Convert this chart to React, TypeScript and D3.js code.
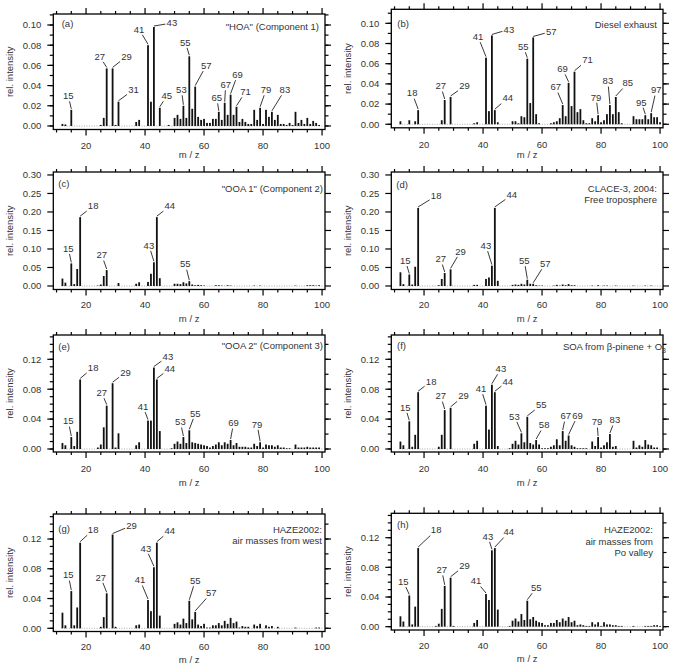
import React from "react";
import * as d3 from "d3";

type Pt = [number, number];

// spectra: [m/z, relative intensity]
const hoa: Pt[] = [[12,.002],[13,.0015],[15,.016],[25,.001],[26,.008],[27,.057],[29,.057],[30,.001],[31,.024],[37,.004],[38,.006],[41,.080],[42,.024],[43,.098],[45,.018],[48,.001],[50,.008],[51,.011],[52,.007],[53,.020],[54,.008],[55,.069],[56,.017],[57,.039],[58,.009],[59,.006],[60,.007],[61,.003],[62,.003],[63,.007],[64,.007],[65,.014],[66,.006],[67,.023],[68,.011],[69,.031],[70,.011],[71,.019],[72,.004],[73,.007],[74,.004],[75,.002],[76,.002],[77,.016],[78,.006],[79,.018],[80,.002],[81,.016],[82,.009],[83,.014],[84,.006],[85,.011],[86,.002],[87,.002],[88,.001],[89,.003],[90,.001],[91,.014],[92,.003],[93,.006],[94,.002],[95,.008],[96,.002],[97,.005],[98,.003],[99,.001]];
const diesel: Pt[] = [[12,.003],[15,.004],[17,.003],[18,.014],[26,.004],[27,.024],[29,.027],[37,.001],[38,.002],[41,.066],[42,.013],[43,.088],[44,.014],[45,.002],[50,.003],[51,.003],[52,.001],[53,.008],[54,.007],[55,.065],[56,.021],[57,.086],[58,.010],[59,.001],[63,.001],[64,.002],[65,.003],[66,.006],[67,.019],[68,.008],[69,.041],[70,.018],[71,.052],[72,.012],[73,.015],[74,.004],[75,.001],[76,.001],[77,.006],[78,.003],[79,.009],[80,.002],[81,.004],[82,.010],[83,.019],[84,.010],[85,.027],[86,.012],[87,.001],[91,.008],[92,.005],[93,.005],[94,.005],[95,.009],[96,.005],[97,.011],[98,.007],[99,.007],[100,.002]];
const ooa1: Pt[] = [[12,.020],[13,.009],[15,.061],[16,.005],[17,.046],[18,.186],[24,.001],[25,.004],[26,.027],[27,.043],[31,.008],[37,.006],[38,.010],[41,.011],[42,.033],[43,.064],[44,.186],[45,.021],[50,.006],[51,.006],[52,.005],[53,.010],[54,.007],[55,.013],[56,.004],[57,.002],[58,.003],[59,.002],[60,.001],[64,.002],[65,.002],[66,.001],[68,.002],[69,.001],[77,.001],[79,.001],[91,.001],[95,.002],[96,.002],[97,.002],[98,.001],[99,.002]];
const clace: Pt[] = [[12,.037],[13,.005],[15,.031],[16,.004],[17,.052],[18,.211],[25,.002],[26,.019],[27,.035],[29,.045],[37,.003],[38,.003],[41,.019],[42,.023],[43,.055],[44,.211],[45,.014],[50,.003],[51,.004],[52,.003],[53,.006],[54,.004],[55,.017],[56,.006],[57,.006],[58,.002],[59,.001],[60,.001],[64,.001],[65,.003],[66,.001],[67,.004],[68,.002],[69,.005],[70,.002],[71,.002],[77,.001],[79,.002],[81,.001],[82,.001],[85,.001],[91,.001],[95,.001],[97,.001]];
const ooa2: Pt[] = [[12,.008],[13,.005],[15,.016],[16,.004],[17,.023],[18,.093],[24,.002],[25,.006],[26,.029],[27,.058],[29,.088],[30,.002],[31,.021],[37,.005],[38,.009],[41,.038],[42,.038],[43,.109],[44,.093],[45,.024],[49,.001],[50,.007],[51,.010],[52,.007],[53,.016],[54,.008],[55,.025],[56,.009],[57,.008],[58,.007],[59,.006],[60,.005],[61,.004],[62,.002],[63,.004],[64,.006],[65,.009],[66,.005],[67,.009],[68,.007],[69,.012],[70,.005],[71,.008],[72,.003],[73,.003],[74,.003],[75,.002],[76,.002],[77,.007],[78,.004],[79,.009],[80,.002],[81,.006],[82,.005],[83,.005],[84,.003],[85,.005],[86,.002],[87,.002],[88,.001],[89,.001],[91,.006],[92,.002],[93,.002],[94,.002],[95,.003],[96,.002],[97,.002],[98,.002],[99,.002]];
const soa: Pt[] = [[12,.010],[13,.005],[15,.037],[16,.003],[17,.019],[18,.076],[25,.003],[26,.019],[27,.052],[29,.055],[37,.007],[38,.011],[41,.058],[42,.026],[43,.086],[44,.076],[45,.004],[49,.001],[50,.007],[51,.011],[52,.006],[53,.021],[54,.009],[55,.043],[56,.008],[57,.006],[58,.012],[59,.006],[60,.001],[61,.001],[62,.001],[63,.003],[64,.005],[65,.013],[66,.005],[67,.024],[68,.011],[69,.018],[70,.005],[71,.003],[72,.001],[73,.001],[74,.001],[75,.001],[77,.010],[78,.004],[79,.016],[80,.002],[81,.005],[82,.009],[83,.020],[84,.003],[85,.004],[91,.011],[92,.002],[93,.005],[94,.003],[95,.012],[96,.006],[97,.005],[98,.002],[99,.002]];
const hazeWest: Pt[] = [[12,.021],[13,.004],[15,.050],[16,.004],[17,.028],[18,.115],[25,.002],[26,.015],[27,.047],[29,.126],[30,.002],[37,.004],[38,.005],[41,.038],[42,.023],[43,.082],[44,.115],[45,.017],[50,.006],[51,.008],[52,.005],[53,.013],[54,.007],[55,.037],[56,.012],[57,.022],[58,.005],[59,.003],[60,.006],[61,.001],[62,.001],[63,.004],[64,.004],[65,.007],[66,.004],[67,.010],[68,.006],[69,.014],[70,.007],[71,.009],[72,.001],[73,.003],[74,.002],[75,.002],[77,.005],[78,.003],[79,.006],[81,.004],[82,.002],[83,.003],[85,.002],[91,.001],[98,.001],[99,.001]];
const hazePo: Pt[] = [[12,.014],[13,.007],[15,.042],[16,.003],[17,.027],[18,.106],[24,.001],[25,.004],[26,.024],[27,.055],[29,.066],[30,.001],[37,.005],[38,.009],[41,.044],[42,.036],[43,.103],[44,.106],[45,.023],[49,.001],[50,.008],[51,.011],[52,.007],[53,.017],[54,.009],[55,.035],[56,.010],[57,.013],[58,.008],[59,.006],[60,.005],[61,.002],[62,.002],[63,.005],[64,.005],[65,.009],[66,.006],[67,.011],[68,.008],[69,.013],[70,.006],[71,.008],[72,.002],[73,.003],[74,.002],[75,.001],[76,.001],[77,.006],[78,.003],[79,.006],[80,.001],[81,.006],[82,.003],[83,.003],[84,.002],[85,.002],[86,.001],[87,.001],[91,.001],[95,.001],[96,.001],[97,.001],[98,.002],[99,.002],[100,.001]];

// labelled peaks
const hoaPeaks = [15, 27, 29, 31, 41, 43, 45, 53, 55, 57, 65, 67, 69, 71, 79, 83];
const dieselPeaks = [18, 27, 29, 41, 43, 44, 55, 57, 67, 69, 71, 79, 83, 85, 95, 97];
const ooa1Peaks = [15, 18, 27, 43, 44, 55];
const clacePeaks = [15, 18, 27, 29, 43, 44, 55, 57];
const ooa2Peaks = [15, 18, 27, 29, 41, 43, 44, 53, 55, 69, 79];
const soaPeaks = [15, 18, 27, 29, 41, 43, 44, 53, 55, 58, 67, 69, 79, 83];
const hazeWestPeaks = [15, 18, 27, 29, 41, 43, 44, 55, 57];
const hazePoPeaks = [15, 18, 27, 29, 41, 43, 44, 55];

const hoaTitle = ['"HOA" (Component 1)'];
const dieselTitle = ["Diesel exhaust"];
const ooa1Title = ['"OOA 1" (Component 2)'];
const claceTitle = ["CLACE-3, 2004:", "Free troposphere"];
const ooa2Title = ['"OOA 2" (Component 3)'];
const soaTitle = ["SOA from β-pinene + O_3"];
const hazeWestTitle = ["HAZE2002:", "air masses from west"];
const hazePoTitle = ["HAZE2002:", "air masses from", "Po valley"];

const xMajor = [20, 40, 60, 80, 100];
const xMinor = [10, 15, 25, 30, 35, 45, 50, 55, 65, 70, 75, 85, 90, 95];

const FONT = '"Liberation Sans", Arial, Helvetica, sans-serif';
const TXT = "#333";

const panels = [
  { letter: "(a)", data: hoa, peaks: hoaPeaks, title: hoaTitle, left: 53.3, top: 14, bottom: 129.5, yLo: -0.0035, yHi: 0.1109, yMax: 0.1, yStep: 0.02, minL: 0.01, minR: 0.01, tickY: 146, xTitleY: 155, letterPos: [61.7, 24], titleX: 319, titleYs: [27],
    off: {15:[-3,-13],27:[-7,-11],29:[14,-11],31:[15,-11],41:[-9,-15],43:[18,-3],45:[7,-11],53:[-2,-15],55:[-4,-13],57:[11,-20],65:[-2,-13],67:[1,-17],69:[7,-19],71:[9,-14],79:[6,-17],83:[13,-21]} },
  { letter: "(b)", data: diesel, peaks: dieselPeaks, title: dieselTitle, left: 391.3, top: 9.3, bottom: 127.8, yLo: -0.0035, yHi: 0.1139, yMax: 0.1, yStep: 0.02, minL: 0.01, minR: 0.01, tickY: 145, xTitleY: 155, letterPos: [397.3, 23.3], titleX: 657, titleYs: [24.3],
    off: {18:[-6,-16],27:[-4,-13],29:[14,-10],41:[-8,-20],43:[17,-5],44:[13,-11],55:[-4,-11],57:[18,-5],67:[-7,-17],69:[-6,-13],71:[13,-11],79:[-2,-17],83:[-2,-23],85:[12,-13],95:[-4,-12],97:[5,-22]} },
  { letter: "(c)", data: ooa1, peaks: ooa1Peaks, title: ooa1Title, left: 53.3, top: 172, bottom: 289.5, yLo: -0.0095, yHi: 0.308, yMax: 0.3, yStep: 0.05, minL: 0, minR: 0, tickY: 305, xTitleY: 319, letterPos: [58.3, 184], titleX: 323, titleYs: [188.3],
    off: {15:[-3,-14],18:[13,-10],27:[-5,-14],43:[-5,-16],44:[13,-10],55:[-4,-16]} },
  { letter: "(d)", data: clace, peaks: clacePeaks, title: claceTitle, left: 391.3, top: 172, bottom: 289.5, yLo: -0.0095, yHi: 0.308, yMax: 0.3, yStep: 0.05, minL: 0, minR: 0, tickY: 305, xTitleY: 319, letterPos: [396.3, 185], titleX: 657, titleYs: [189, 199.3],
    off: {15:[-4,-13],18:[18,-11],27:[-4,-13],29:[10,-17],43:[-6,-19],44:[17,-12],55:[-3,-18],57:[12,-19]} },
  { letter: "(e)", data: ooa2, peaks: ooa2Peaks, title: ooa2Title, left: 53.3, top: 335, bottom: 452, yLo: -0.004, yHi: 0.1525, yMax: 0.12, yStep: 0.04, minL: 0.01, minR: 0.02, tickY: 468.3, xTitleY: 482.7, letterPos: [58.3, 346.7], titleX: 323, titleYs: [346],
    off: {15:[-3,-15],18:[13,-11],27:[-5,-12],29:[13,-10],41:[-5,-13],43:[14,-10],44:[13,-10],53:[-3,-14],55:[6,-16],69:[3,-16],79:[-3,-17]} },
  { letter: "(f)", data: soa, peaks: soaPeaks, title: soaTitle, left: 391.3, top: 335, bottom: 452, yLo: -0.004, yHi: 0.1525, yMax: 0.12, yStep: 0.04, minL: 0.01, minR: 0.02, tickY: 468.3, xTitleY: 482.7, letterPos: [397, 346], titleX: 666, titleYs: [346.7],
    off: {15:[-4,-13],18:[13,-10],27:[-4,-13],29:[13,-11],41:[-5,-16],43:[9,-15],44:[13,-10],53:[-7,-16],55:[14,-11],58:[8,-14],67:[3,-14],69:[9,-19],79:[-1,-14],83:[5,-13]} },
  { letter: "(g)", data: hazeWest, peaks: hazeWestPeaks, title: hazeWestTitle, left: 53.3, top: 514, bottom: 631.5, yLo: -0.0043, yHi: 0.1536, yMax: 0.12, yStep: 0.04, minL: 0.01, minR: 0.02, tickY: 646.7, xTitleY: 660, letterPos: [58.3, 528.3], titleX: 322, titleYs: [529.3, 541],
    off: {15:[-3,-15],18:[13,-12],27:[-6,-15],29:[19,-8],41:[-8,-19],43:[-8,-18],44:[13,-11],55:[6,-19],57:[16,-18]} },
  { letter: "(h)", data: hazePo, peaks: hazePoPeaks, title: hazePoTitle, left: 391.3, top: 513.3, bottom: 630, yLo: -0.0045, yHi: 0.1529, yMax: 0.12, yStep: 0.04, minL: 0.01, minR: 0.02, tickY: 645.7, xTitleY: 658.3, letterPos: [397, 524.3], titleX: 653, titleYs: [530, 541.7, 552.3],
    off: {15:[-6,-13],18:[18,-17],27:[-3,-15],29:[14,-11],41:[-10,-12],43:[-4,-13],44:[14,-15],55:[9,-12]} },
];

type PanelCfg = (typeof panels)[number];

function TitleLine({ s, x, y }: { s: string; x: number; y: number }) {
  const i = s.indexOf("_");
  if (i < 0) return <text x={x} y={y} dy="0.35em" textAnchor="end">{s}</text>;
  return (
    <text x={x} y={y} dy="0.35em" textAnchor="end">
      {s.slice(0, i)}
      <tspan dy={3} fontSize={7}>{s.slice(i + 1)}</tspan>
    </text>
  );
}

function Panel({ p }: { p: PanelCfg }) {
  const width = 271.7;
  const x = d3.scaleLinear().domain([8.9, 101]).range([p.left, p.left + width]);
  const y = d3.scaleLinear().domain([p.yLo, p.yHi]).range([p.bottom, p.top]);
  const right = p.left + width;
  const fmt = d3.format(".2f");
  const eps = 1e-9;
  const yMajor = d3.range(0, p.yMax + eps, p.yStep);
  const yMinL = p.minL ? d3.range(0, p.yHi, p.minL) : [];
  const yMinR = p.minR ? d3.range(0, p.yHi, p.minR) : [];
  const val = new Map(p.data.map(([m, v]) => [m, v]));
  const hw = 6.5, hh = 5.5;
  const cx = p.left + width / 2;
  const cy = (p.top + p.bottom) / 2;

  return (
    <g fontFamily={FONT} fontSize={9.5} fill={TXT}>
      {/* zero line */}
      <line x1={x(12) - 1} x2={x(100) + 1} y1={y(0)} y2={y(0)} stroke="#999" strokeWidth={0.8} strokeDasharray="1,1.5" />
      {/* bars */}
      {p.data.map(([m, v]) => (
        <rect key={m} x={x(m) - 0.9} width={1.8} y={y(v)} height={y(0) - y(v)} fill="#111" />
      ))}
      {/* frame */}
      <rect x={p.left} y={p.top} width={width} height={p.bottom - p.top} fill="none" stroke="#000" strokeWidth={1.3} />
      {/* x ticks */}
      <g stroke="#000" strokeWidth={1.2}>
        {xMajor.map((t) => (
          <g key={"M" + t}>
            <line x1={x(t)} x2={x(t)} y1={p.bottom} y2={p.bottom + 6} />
            <line x1={x(t)} x2={x(t)} y1={p.top} y2={p.top - 6} />
          </g>
        ))}
        {xMinor.map((t) => (
          <g key={"m" + t}>
            <line x1={x(t)} x2={x(t)} y1={p.bottom} y2={p.bottom + 3} />
            <line x1={x(t)} x2={x(t)} y1={p.top} y2={p.top - 3} />
          </g>
        ))}
        {yMajor.map((t) => (
          <g key={"YM" + t}>
            <line x1={p.left} x2={p.left - 6} y1={y(t)} y2={y(t)} />
            <line x1={right} x2={right + 6} y1={y(t)} y2={y(t)} />
          </g>
        ))}
        {yMinL.map((t) => (
          <line key={"yl" + t} x1={p.left} x2={p.left - 3.5} y1={y(t)} y2={y(t)} />
        ))}
        {yMinR.map((t) => (
          <line key={"yr" + t} x1={right} x2={right + 3.5} y1={y(t)} y2={y(t)} />
        ))}
      </g>
      {/* tick labels */}
      {xMajor.map((t) => (
        <text key={"xl" + t} x={x(t)} y={p.tickY} dy="0.35em" textAnchor="middle">{t}</text>
      ))}
      {yMajor.map((t) => (
        <text key={"yl" + t} x={p.left - 12} y={y(t)} dy="0.35em" textAnchor="end">{fmt(t)}</text>
      ))}
      <text x={cx} y={p.xTitleY} dy="0.35em" textAnchor="middle">m / z</text>
      <text transform={`translate(${p.left - 44},${cy}) rotate(-90)`} dy="0.35em" textAnchor="middle">rel. intensity</text>
      {/* panel letter and title */}
      <text x={p.letterPos[0]} y={p.letterPos[1]} dy="0.35em">{p.letter}</text>
      {p.title.map((s, i) => (
        <TitleLine key={i} s={s} x={p.titleX} y={p.titleYs[i]} />
      ))}
      {/* peak labels */}
      {p.peaks.map((m) => {
        const bx = x(m), by = y(val.get(m) || 0) - 1;
        const [dx, dy] = (p.off as Record<number, number[]>)[m];
        const t = Math.max(0, 1 - hw / Math.abs(dx || 0.001), 1 - hh / Math.abs(dy || 0.001));
        return (
          <g key={"pk" + m}>
            <line x1={bx} y1={by} x2={bx + dx * t} y2={by + dy * t} stroke="#222" strokeWidth={0.9} />
            <text x={bx + dx} y={by + dy} dy="0.35em" textAnchor="middle">{m}</text>
          </g>
        );
      })}
    </g>
  );
}

export default function App() {
  return (
    <svg width={678} height={668} style={{ position: "absolute", left: 0, top: 0, background: "#fff" }}>
      <rect width={678} height={668} fill="#fff" />
      {panels.map((p) => (
        <Panel key={p.letter} p={p} />
      ))}
    </svg>
  );
}
